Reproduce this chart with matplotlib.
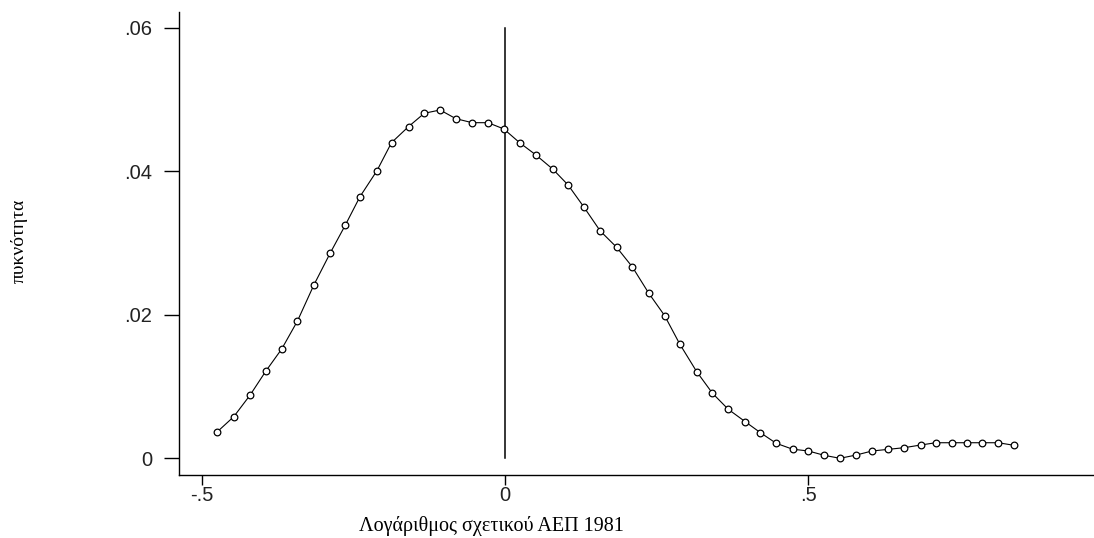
import matplotlib
matplotlib.use('Agg')
import matplotlib.pyplot as plt

# kernel density estimate points
log_rel_gdp = [-0.474, -0.447, -0.420, -0.394, -0.368, -0.342, -0.315, -0.288, -0.263, -0.239,
               -0.211, -0.187, -0.159, -0.133, -0.107, -0.081, -0.054, -0.028, -0.002, 0.024,
               0.051, 0.079, 0.104, 0.130, 0.157, 0.184, 0.210, 0.237, 0.263, 0.288,
               0.316, 0.342, 0.368, 0.396, 0.421, 0.447, 0.474, 0.500, 0.526, 0.552,
               0.579, 0.605, 0.632, 0.658, 0.685, 0.710, 0.737, 0.761, 0.787, 0.813, 0.839]
density = [0.00371, 0.00580, 0.00882, 0.01217, 0.01523, 0.01914, 0.02415, 0.02861, 0.03252, 0.03646,
           0.04008, 0.04399, 0.04622, 0.04808, 0.04854, 0.04733, 0.04677, 0.04677, 0.04590, 0.04399,
           0.04227, 0.04028, 0.03809, 0.03502, 0.03168, 0.02941, 0.02666, 0.02300, 0.01990, 0.01593,
           0.01207, 0.00906, 0.00683, 0.00510, 0.00357, 0.00209, 0.00127, 0.00102, 0.00042, 0.00000,
           0.00046, 0.00102, 0.00125, 0.00148, 0.00185, 0.00217, 0.00217, 0.00217, 0.00217, 0.00217,
           0.00181]

x_ticks = [-0.5, 0, 0.5]
x_labels = ['-.5', '0', '.5']
y_ticks = [0, 0.02, 0.04, 0.06]
y_labels = ['0', '.02', '.04', '.06']
vline_x = 0
vline_top = 0.06

fig = plt.figure(figsize=(10.94, 5.38), dpi=100)
ax = fig.add_axes([0.1636, 0.1171, 0.8364, 0.8612])

ax.plot(log_rel_gdp, density, color='black', lw=0.8, marker='o', markersize=4.8,
        markerfacecolor='white', markeredgecolor='black', markeredgewidth=0.9, zorder=3)
ax.plot([vline_x, vline_x], [0, vline_top], color='black', lw=1.1, zorder=2)

ax.set_xlim(-0.5373, 0.9708)
ax.set_ylim(-0.002327, 0.06224)

for side in ['top', 'right']:
    ax.spines[side].set_visible(False)
for side in ['left', 'bottom']:
    ax.spines[side].set_linewidth(1.0)

tick_font = {'family': 'Liberation Sans', 'size': 14.5}
ax.set_xticks(x_ticks)
ax.set_xticklabels(x_labels, fontdict=tick_font, color='#222222')
ax.set_yticks(y_ticks)
ax.set_yticklabels(y_labels, fontdict=tick_font, color='#222222')
ax.tick_params(axis='x', length=7, width=1.0, pad=1)
ax.tick_params(axis='y', length=11, width=1.0, pad=8.5)

fig.text(491 / 1094, 7 / 538, 'Λογάριθμος σχετικού ΑΕΠ 1981', family='Liberation Serif',
         fontsize=14.5, ha='center', va='baseline')
fig.text(19 / 1094, 1 - 241 / 538, 'πυκνότητα', family='Liberation Serif',
         fontsize=14, ha='center', va='center', rotation=90)

fig.savefig('out.png', dpi=100)
